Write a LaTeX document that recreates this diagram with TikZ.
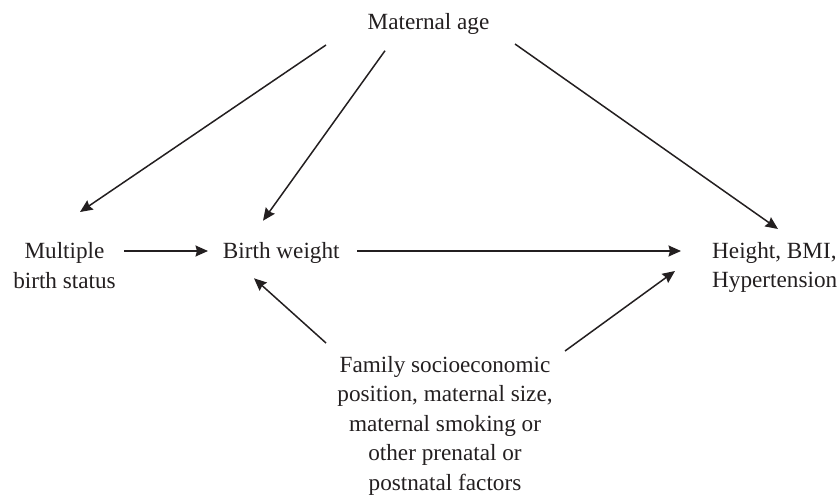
\documentclass[tikz,border=0pt]{standalone}
\usepackage{fontspec}
\setmainfont{Liberation Serif}
\usetikzlibrary{arrows.meta}
\definecolor{ink}{HTML}{231F20}
\begin{document}
\begin{tikzpicture}[x=1pt,y=1pt,
  lbl/.style={inner sep=0pt, text=ink, font=\fontsize{23.2}{29.5}\selectfont},
  arr/.style={draw=ink, line width=1.5pt, -{Stealth[length=12.5pt,width=11pt,inset=1.5pt]}}]
\useasboundingbox (0,0) rectangle (839,-498);
\node[lbl, anchor=base] (ma) at (428.5,-29) {Maternal age};
\node[lbl, anchor=base, align=center] (mb) at (64.5,-288) {Multiple\\birth status};
\node[lbl, anchor=base] (bw) at (281.3,-258.5) {Birth weight};
\node[lbl, anchor=base west, align=left] (hb) at (712,-287.5) {Height, BMI,\\Hypertension};
\node[lbl, anchor=base, align=center] (fs) at (445,-490.2) {Family socioeconomic\\position, maternal size,\\maternal smoking or\\other prenatal or\\postnatal factors};
\draw[arr] ([shift={(-102.5,-16)}]ma.base) -- ([shift={(15.5,76)}]mb.base);
\draw[arr] ([shift={(-43.5,-21.7)}]ma.base) -- ([shift={(-18.3,37.8)}]bw.base);
\draw[arr] ([shift={(86.5,-15)}]ma.base) -- ([shift={(66,58.5)}]hb.base west);
\draw[arr] ([shift={(59.5,37)}]mb.base) -- ([shift={(-73.3,7.5)}]bw.base);
\draw[arr] ([shift={(75.7,7.5)}]bw.base) -- ([shift={(-31,36.5)}]hb.base west);
\draw[arr] ([shift={(-119,147.2)}]fs.base) -- ([shift={(-27.3,-19.8)}]bw.base);
\draw[arr] ([shift={(120,139.2)}]fs.base) -- ([shift={(-37,16.5)}]hb.base west);
\end{tikzpicture}
\end{document}
